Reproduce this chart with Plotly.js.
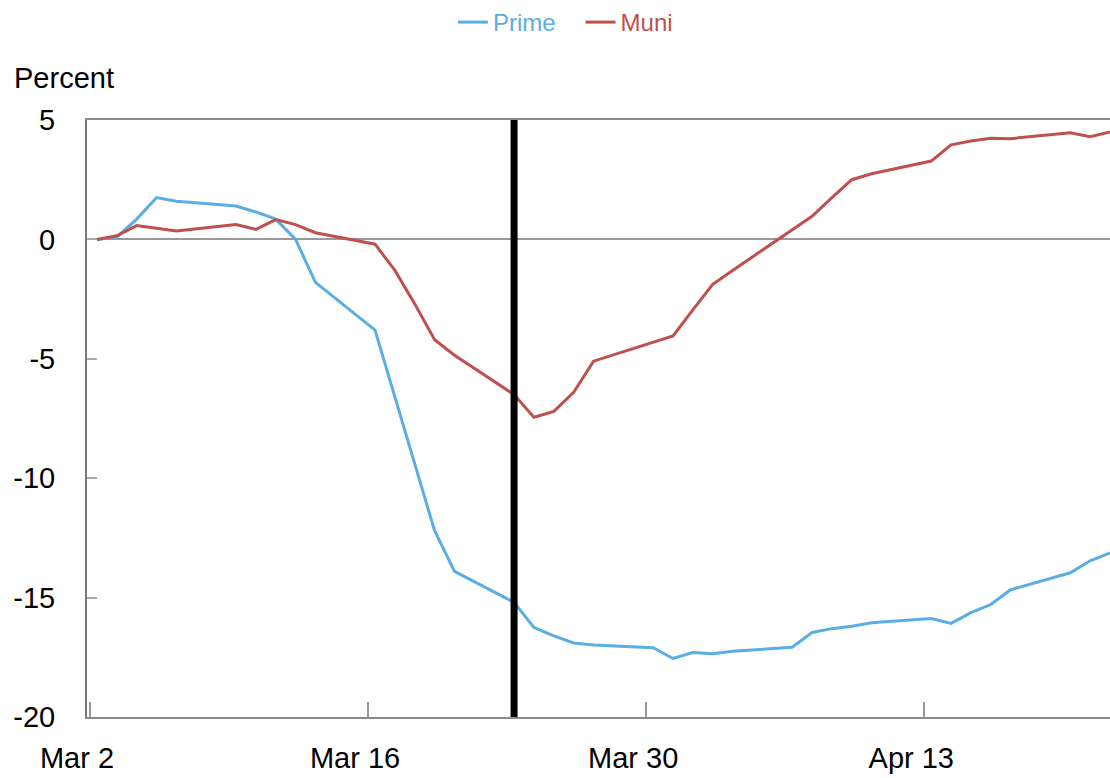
<!DOCTYPE html>
<html>
<head>
<meta charset="utf-8">
<script src="https://cdn.plot.ly/plotly-3.0.1.min.js"></script>
<style>html,body{margin:0;padding:0;background:#fff;}#chart{width:1110px;height:778px;}</style>
</head>
<body>
<div id="chart"></div>
<script>
const dates = ['2020-03-02','2020-03-03','2020-03-04','2020-03-05','2020-03-06',
  '2020-03-09','2020-03-10','2020-03-11','2020-03-12','2020-03-13',
  '2020-03-16','2020-03-17','2020-03-18','2020-03-19','2020-03-20',
  '2020-03-23','2020-03-24','2020-03-25','2020-03-26','2020-03-27',
  '2020-03-30','2020-03-31','2020-04-01','2020-04-02','2020-04-03',
  '2020-04-06','2020-04-07','2020-04-08','2020-04-09','2020-04-10',
  '2020-04-13','2020-04-14','2020-04-15','2020-04-16','2020-04-17',
  '2020-04-20','2020-04-21','2020-04-22'];
const prime = [0, 0.1, 0.85, 1.75, 1.6,
  1.4, 1.15, 0.85, 0, -1.8,
  -3.8, -6.6, -9.5, -12.2, -13.9,
  -15.2, -16.25, -16.6, -16.9, -16.98,
  -17.1, -17.55, -17.3, -17.35, -17.25,
  -17.08, -16.46, -16.3, -16.2, -16.05,
  -15.88, -16.08, -15.63, -15.29, -14.67,
  -13.96, -13.46, -13.13];
const muni = [0, 0.15, 0.58, 0.45, 0.35,
  0.62, 0.42, 0.83, 0.62, 0.28,
  -0.2, -1.3, -2.7, -4.2, -4.85,
  -6.5, -7.45, -7.2, -6.4, -5.1,
  -4.3, -4.04, -2.95, -1.88, -1.3,
  0.4, 0.97, 1.75, 2.5, 2.75,
  3.28, 3.96, 4.12, 4.24, 4.22,
  4.47, 4.3, 4.5];
const eventDate = '2020-03-23';
const xTickVals = ['2020-03-01T15:36','2020-03-15T15:36','2020-03-29T15:36','2020-04-12T15:36'];
const xTickText = ['Mar 2','Mar 16','Mar 30','Apr 13'];
const yTickVals = [-20,-15,-10,-5,0,5];
const yTickText = ['-20','-15','-10','-5','0','5'];

const primeColor = '#5AAEE3';
const muniColor = '#C0504D';
const FONT = '"Liberation Sans", Arial, sans-serif';
const NB = '\u00a0\u00a0\u00a0';

const traces = [
  {x: dates, y: prime, type: 'scatter', mode: 'lines',
   name: '<span style="color:' + primeColor + '">Prime</span>' + NB,
   line: {color: primeColor, width: 3}},
  {x: dates, y: muni, type: 'scatter', mode: 'lines',
   name: '<span style="color:' + muniColor + '">Muni</span>',
   line: {color: muniColor, width: 3}}
];

const layout = {
  width: 1110, height: 778,
  margin: {l: 87, r: 0, t: 120, b: 61},
  paper_bgcolor: '#fff', plot_bgcolor: '#fff',
  font: {family: FONT, size: 29, color: '#000'},
  showlegend: true,
  legend: {orientation: 'h', x: 0.408, xanchor: 'left', xref: 'container',
           y: 1, yanchor: 'top', yref: 'container',
           font: {family: FONT, size: 24}, itemwidth: 30, tracegroupgap: 0},
  xaxis: {
    type: 'date', range: ['2020-03-01T12:00', '2020-04-22T00:00'],
    tickmode: 'array', tickvals: xTickVals, ticktext: xTickText,
    ticks: 'inside', ticklen: 15, tickwidth: 1.5, tickcolor: '#999',
    ticklabelshift: -13, ticklabelstandoff: 14,
    showgrid: false, zeroline: false,
    showline: true, linecolor: '#8a8a8a', linewidth: 2, mirror: true,
    tickfont: {family: FONT, size: 29, color: '#000'}
  },
  yaxis: {
    range: [-20, 5], tickmode: 'array', tickvals: yTickVals, ticktext: yTickText,
    ticks: 'inside', ticklen: 10, tickwidth: 1.5, tickcolor: '#aaa',
    ticklabelstandoff: 24,
    showgrid: false, zeroline: true, zerolinecolor: '#999', zerolinewidth: 2,
    showline: true, linecolor: '#777', linewidth: 2,
    tickfont: {family: FONT, size: 29, color: '#000'}
  },
  shapes: [{type: 'line', xref: 'x', yref: 'paper', x0: eventDate, x1: eventDate,
            y0: 0, y1: 1, line: {color: '#000', width: 7}}],
  annotations: [{text: 'Percent', xref: 'paper', yref: 'paper', x: 0, y: 1,
                 xanchor: 'left', yanchor: 'middle', xshift: -75, yshift: 42,
                 showarrow: false, font: {family: FONT, size: 29, color: '#000'}}]
};

Plotly.newPlot('chart', traces, layout, {displayModeBar: false, responsive: false});
</script>
</body>
</html>
